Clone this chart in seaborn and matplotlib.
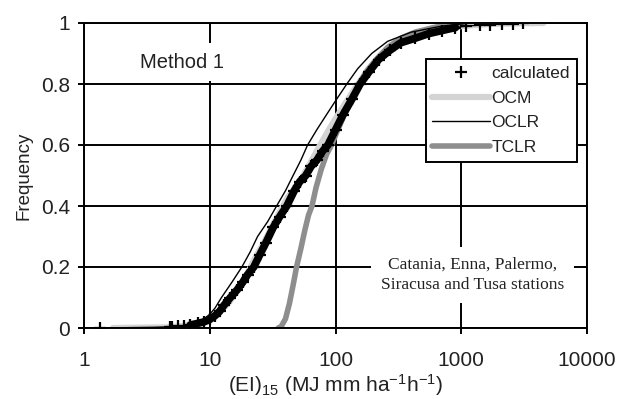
import numpy as np
import pandas as pd
import matplotlib
matplotlib.use("Agg")
import matplotlib.pyplot as plt
import seaborn as sns
from matplotlib.lines import Line2D

# ---- data (EI15 value, cumulative frequency) ----
calc_x = [1.35, 4.8, 5.0, 5.6, 6.2, 7.0, 8.0, 9.0, 10, 11, 12, 13, 14.6, 16.5, 18.3, 20, 22.4,
          25, 28, 32, 36, 41, 47, 52, 58, 64, 71, 79, 87, 100, 115, 135, 157, 185, 220, 270,
          330, 430, 550, 700, 900, 1100, 1400, 1700, 2100, 2600, 3100]
calc_f = [0.0, 0.003, 0.004, 0.006, 0.008, 0.01, 0.015, 0.02, 0.028, 0.04, 0.055, 0.075, 0.1,
          0.125, 0.15, 0.175, 0.2, 0.24, 0.28, 0.33, 0.365, 0.4, 0.45, 0.48, 0.5, 0.53, 0.55,
          0.58, 0.6, 0.65, 0.7, 0.75, 0.8, 0.84, 0.88, 0.91, 0.935, 0.95, 0.965, 0.975, 0.985,
          0.99, 0.993, 0.995, 0.997, 0.998, 1.0]

ocm_x = [1.7, 4.5, 6, 8, 10, 12, 14, 17, 20, 23, 27, 31, 36, 42, 52, 61, 71, 83, 98, 117,
         140, 170, 210, 260, 330, 450, 650, 1000, 1700, 2800, 4500]
ocm_f = [0.0, 0.002, 0.006, 0.015, 0.03, 0.055, 0.08, 0.13, 0.18, 0.23, 0.28, 0.33, 0.38,
         0.43, 0.48, 0.53, 0.58, 0.63, 0.68, 0.73, 0.78, 0.83, 0.87, 0.91, 0.94, 0.965, 0.98,
         0.99, 0.997, 0.999, 1.0]

oclr_x = [3, 5, 7, 8, 9, 10, 11, 12.4, 15, 18, 21, 24, 29, 34, 40, 46, 53, 60, 71,
          85, 102, 123, 150, 194, 260, 400, 700, 1200]
oclr_f = [0.0, 0.003, 0.01, 0.018, 0.03, 0.045, 0.065, 0.1, 0.15, 0.2, 0.25,
          0.3, 0.35, 0.4, 0.45, 0.5, 0.55, 0.6, 0.65, 0.7, 0.75, 0.8, 0.85, 0.9, 0.94, 0.97,
          0.99, 1.0]

tclr_x = [35, 37, 40, 43, 46, 49, 53, 57, 61, 65, 70, 77, 85, 93, 102, 115, 130, 150, 175,
          210, 260, 330, 430, 600, 800, 1000]
tclr_f = [0.0, 0.005, 0.03, 0.08, 0.14, 0.2, 0.26, 0.32, 0.37, 0.4, 0.46, 0.52, 0.57, 0.6,
          0.64, 0.69, 0.74, 0.79, 0.84, 0.88, 0.92, 0.95, 0.97, 0.985, 0.995, 1.0]

x_ticks = [1, 10, 100, 1000, 10000]
x_tick_labels = ["1", "10", "100", "1000", "10000"]
y_ticks = [0, 0.2, 0.4, 0.6, 0.8, 1.0]
y_tick_labels = ["0", "0.2", "0.4", "0.6", "0.8", "1"]

sns.set_theme(style="white")
plt.rcParams["font.family"] = ["Liberation Sans", "DejaVu Sans"]
plt.rcParams["mathtext.default"] = "regular"

fig = plt.figure(figsize=(6.19, 3.99), dpi=100)
ax = fig.add_axes([84 / 619, 1 - 328 / 399, 503 / 619, 305 / 399])

OCM_C = "#d4d4d4"
TCLR_C = "#8e8e8e"
TXT = "#222222"

calc = pd.DataFrame({"x": calc_x, "f": calc_f})
dense = calc[(calc["f"] >= 0.01) & (calc["f"] <= 0.985)]

sns.lineplot(x=ocm_x, y=ocm_f, ax=ax, color=OCM_C, lw=4.5, sort=False, estimator=None)
sns.lineplot(x=tclr_x, y=tclr_f, ax=ax, color=TCLR_C, lw=4, sort=False, estimator=None)
sns.lineplot(data=dense, x="x", y="f", ax=ax, color="black", lw=5.5, sort=False, estimator=None)
sns.lineplot(data=calc, x="x", y="f", ax=ax, color="black", lw=1.0, sort=False, estimator=None,
             marker="+", markersize=8, markeredgewidth=1.6, markeredgecolor="black")
sns.lineplot(x=oclr_x, y=oclr_f, ax=ax, color="black", lw=1.0, sort=False, estimator=None)

ax.set_xscale("log")
ax.set_xlim(1, 10000)
ax.set_ylim(0, 1)
ax.set_xticks(x_ticks)
ax.set_xticklabels(x_tick_labels)
ax.set_yticks(y_ticks)
ax.set_yticklabels(y_tick_labels)
ax.xaxis.set_minor_locator(matplotlib.ticker.NullLocator())
ax.grid(True, color="black", lw=1.4)
ax.set_axisbelow(True)
for s in ax.spines.values():
    s.set_color("black")
    s.set_linewidth(1.4)
ax.tick_params(axis="both", which="major", direction="out", length=4.5, width=1.4,
               color="black", labelsize=15, labelcolor=TXT, bottom=True, left=True)
ax.tick_params(axis="y", pad=5.5)
ax.tick_params(axis="x", pad=12)

ax.set_ylabel("Frequency", fontsize=13.5, color=TXT, labelpad=6)
ax.set_xlabel("(EI)$_{15}$ (MJ mm ha$^{-1}$h$^{-1}$)", fontsize=15, color=TXT, labelpad=1.5)

ax.text(0.111, 0.872, "Method 1", transform=ax.transAxes, fontsize=14.5, color=TXT,
        va="center", ha="left",
        bbox=dict(facecolor="white", edgecolor="none", pad=7))

ax.text(0.773, 0.174, "Catania, Enna, Palermo,\nSiracusa and Tusa stations",
        transform=ax.transAxes, fontsize=12.5, family=["Liberation Serif", "DejaVu Serif"],
        color=TXT, ha="center", va="center", linespacing=1.35,
        bbox=dict(facecolor="white", edgecolor="none", pad=7))

handles = [
    Line2D([], [], color="black", marker="+", lw=0, markersize=8, markeredgewidth=1.6),
    Line2D([], [], color=OCM_C, lw=4.5),
    Line2D([], [], color="black", lw=1.0),
    Line2D([], [], color=TCLR_C, lw=4),
]
leg = ax.legend(handles, ["calculated", "OCM", "OCLR", "TCLR"], loc="upper right",
                bbox_to_anchor=(0.98, 0.882), fontsize=12.5, frameon=True, fancybox=False,
                edgecolor="black", framealpha=1, handlelength=3.3, handletextpad=0.1,
                labelspacing=0.55, borderpad=0.4, borderaxespad=0)
leg.get_frame().set_linewidth(1.4)
for t in leg.get_texts():
    t.set_color(TXT)

fig.savefig("out.png", dpi=100)
